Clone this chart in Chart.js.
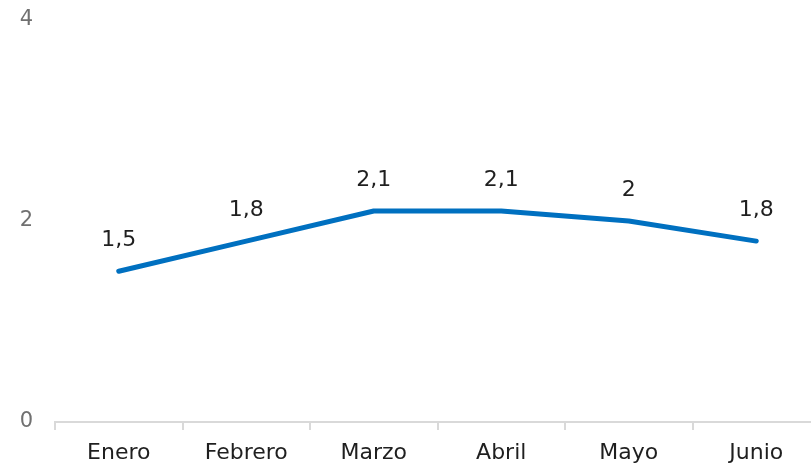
<!DOCTYPE html>
<html>
<head>
<meta charset="utf-8">
<script src="https://cdn.jsdelivr.net/npm/chart.js@4"></script>
<style>
  html, body { margin: 0; padding: 0; background: #fff; overflow: hidden; }
  #wrap { width: 820px; height: 467px; }
</style>
</head>
<body>
<div id="wrap"><canvas id="c" width="820" height="467"></canvas></div>
<script>
const categories = ["Enero", "Febrero", "Marzo", "Abril", "Mayo", "Junio"];
const values = [1.5, 1.8, 2.1, 2.1, 2.0, 1.8];
const yTicks = [0, 2, 4];

const FONT = "'DejaVu Sans', sans-serif";

const labelPlugin = {
  id: 'valueLabels',
  afterDatasetsDraw(chart) {
    const ctx = chart.ctx;
    const meta = chart.getDatasetMeta(0);
    ctx.save();
    ctx.font = "22px " + FONT;
    ctx.fillStyle = "#1f1f1f";
    ctx.textAlign = "center";
    ctx.textBaseline = "middle";
    meta.data.forEach((pt, i) => {
      const txt = String(values[i]).replace('.', ',');
      ctx.fillText(txt, pt.x, pt.y - 31);
    });
    ctx.restore();
  }
};

new Chart(document.getElementById('c'), {
  type: 'line',
  data: {
    labels: categories,
    datasets: [{
      data: values,
      borderColor: '#0070C0',
      borderWidth: 5,
      borderCapStyle: 'round',
      borderJoinStyle: 'round',
      pointRadius: 0,
      tension: 0,
      fill: false
    }]
  },
  options: {
    responsive: false,
    animation: false,
    layout: { padding: { top: 20, right: 0, bottom: 0, left: 0 } },
    plugins: { legend: { display: false }, tooltip: { enabled: false } },
    scales: {
      x: {
        offset: true,
        grid: {
          offset: true,
          drawOnChartArea: false,
          drawTicks: true,
          tickLength: 8,
          color: '#d9d9d9',
          lineWidth: 2
        },
        border: { display: true, color: '#d9d9d9', width: 2 },
        ticks: {
          font: { family: FONT, size: 22 },
          color: '#1f1f1f',
          padding: 10,
          maxRotation: 0
        },
        afterFit(scale) {
          scale.height = 45;
          scale.paddingLeft = 0; scale.paddingRight = 0;
        }
      },
      y: {
        min: 0,
        max: 4,
        afterBuildTicks(scale) { scale.ticks = yTicks.map(v => ({ value: v })); },
        grid: { display: false, drawTicks: false },
        border: { display: false },
        ticks: {
          font: { family: FONT, size: 21 },
          color: '#707070',
          padding: 22
        },
        afterFit(scale) {
          scale.width = 55;
          scale.paddingTop = 0; scale.paddingBottom = 0;
        }
      }
    }
  },
  plugins: [labelPlugin]
});
</script>
</body>
</html>
